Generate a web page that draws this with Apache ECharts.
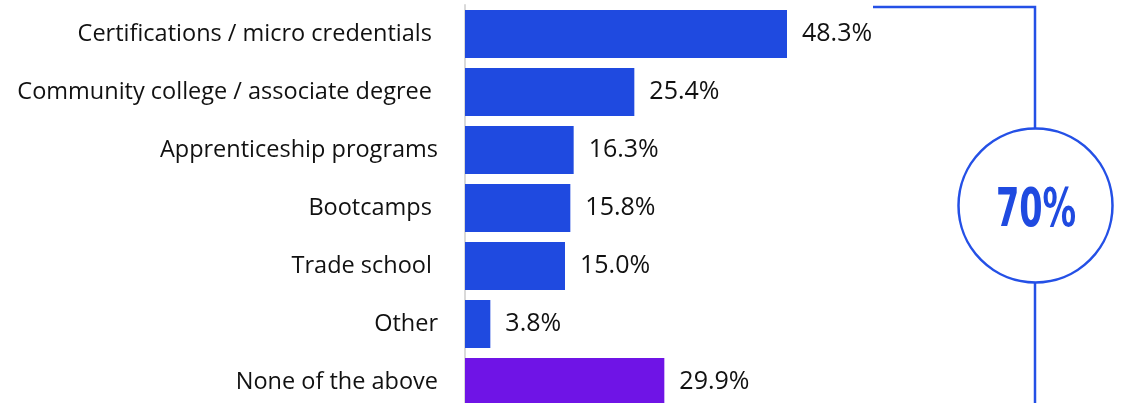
<!DOCTYPE html>
<html>
<head>
<meta charset="utf-8">
<script src="https://cdn.jsdelivr.net/npm/echarts@6/dist/echarts.min.js"></script>
<style>
html,body{margin:0;padding:0;background:#fff;overflow:hidden;}
#chart{width:1130px;height:411px;}
</style>
</head>
<body>
<div id="chart"></div>
<script>
const categories = [
  "Certifications / micro credentials ",
  "Community college / associate degree ",
  "Apprenticeship programs",
  "Bootcamps ",
  "Trade school ",
  "Other",
  "None of the above"
];
const values = [48.3, 25.4, 16.3, 15.8, 15.0, 3.8, 29.9];
const barColors = ["#1f4ae0", "#1f4ae0", "#1f4ae0", "#1f4ae0", "#1f4ae0", "#1f4ae0", "#6f14e6"];
const calloutText = "70%";

const chart = echarts.init(document.getElementById('chart'), null, {renderer: 'canvas'});
const fontFam = "'Open Sans', sans-serif";
chart.setOption({
  animation: false,
  grid: {left: 465, top: 5, width: 400, bottom: 0, containLabel: false},
  xAxis: {type: 'value', min: 0, max: 60, show: false},
  yAxis: {
    type: 'category', data: categories, inverse: true,
    axisLine: {show: true, lineStyle: {color: '#d9d9d9', width: 2}},
    axisTick: {show: false},
    axisLabel: {color: '#111', fontSize: 23.5, fontFamily: fontFam, margin: 27}
  },
  series: [{
    type: 'bar',
    data: values.map((v, i) => ({value: v, itemStyle: {color: barColors[i]}})),
    barCategoryGap: '17%',
    label: {
      show: true, position: 'right', distance: 15,
      formatter: p => p.value.toFixed(1) + '%',
      color: '#111', fontSize: 25, fontFamily: fontFam
    }
  }],
  graphic: [
    {type: 'polyline', shape: {points: [[873, 7], [1035, 7], [1035, 128]]}, style: {stroke: '#2450e6', lineWidth: 2.5, fill: null}},
    {type: 'line', shape: {x1: 1035, y1: 283, x2: 1035, y2: 411}, style: {stroke: '#2450e6', lineWidth: 2.5}},
    {type: 'circle', shape: {cx: 1035.5, cy: 205.5, r: 77}, style: {stroke: '#2450e6', lineWidth: 2.5, fill: '#fff'}},
    {type: 'text', x: 1036, y: 211.5, scaleX: 0.69,
      style: {text: calloutText, fill: '#1f4ae0', font: "bold 54px 'Liberation Sans Narrow', 'DejaVu Sans Condensed', sans-serif", textAlign: 'center', textVerticalAlign: 'middle'}}
  ]
});
</script>
</body>
</html>
